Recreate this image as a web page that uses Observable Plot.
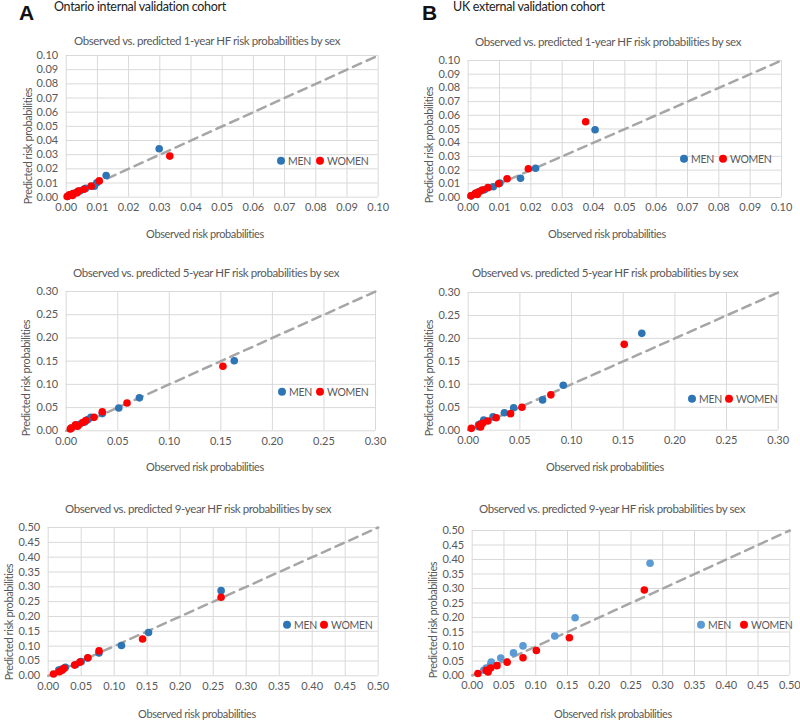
<!DOCTYPE html>
<html>
<head>
<meta charset="utf-8">
<script src="https://cdn.jsdelivr.net/npm/d3@7"></script>
<script src="https://cdn.jsdelivr.net/npm/@observablehq/plot@0.6"></script>
<style>
  body { margin: 0; background: #fff; }
  #root { position: relative; width: 800px; height: 720px; font-family: Lato, "Open Sans", sans-serif; overflow: hidden; }
  .abs { position: absolute; white-space: nowrap; line-height: 1; }
  .panelLetter { font-family: "Liberation Sans", Arial, sans-serif; font-weight: bold; font-size: 21px; color: #111; }
  .cohort { font-size: 12.5px; color: #222; letter-spacing: -0.3px; }
  .ctitle { font-size: 11.5px; color: #595959; letter-spacing: -0.4px; transform: translate(-50%, -50%); }
  .xlab { font-size: 11px; color: #595959; letter-spacing: -0.4px; transform: translate(-50%, -50%); }
  .ylab { font-size: 11px; color: #595959; letter-spacing: -0.4px; transform: translate(-50%, -50%) rotate(-90deg); }
  .leg { font-size: 10.5px; color: #595959; display: flex; align-items: center; transform: translate(-4px, -50%); letter-spacing: -0.3px; }
  .leg span.dot { display: inline-block; width: 8px; height: 8px; border-radius: 50%; margin-right: 3px; }
  .leg span.t { margin-right: 5px; }
  svg { position: absolute; overflow: visible; }
</style>
</head>
<body>
<div id="root"></div>
<script>
// ---------------- DATA ----------------
const seriesNames = ["MEN", "WOMEN"];
const cohortTitles = ["Ontario internal validation cohort", "UK external validation cohort"];
const panelLetters = ["A", "B"];
const chartTitles = [
  "Observed vs. predicted 1-year HF risk probabilities by sex",
  "Observed vs. predicted 5-year HF risk probabilities by sex",
  "Observed vs. predicted 9-year HF risk probabilities by sex"
];
const xAxisTitle = "Observed risk probabilities";
const yAxisTitle = "Predicted risk probabilities";

const ticks1yr = [0, 0.01, 0.02, 0.03, 0.04, 0.05, 0.06, 0.07, 0.08, 0.09, 0.10];
const ticks5yr = [0, 0.05, 0.10, 0.15, 0.20, 0.25, 0.30];
const ticks9yr = [0, 0.05, 0.10, 0.15, 0.20, 0.25, 0.30, 0.35, 0.40, 0.45, 0.50];

// Ontario 1-year  [observed, predicted]
const ontario1Men = [[0.0298,0.0342],[0.0128,0.0153],[0.0098,0.0102],[0.0090,0.0078],[0.0062,0.0062],[0.0045,0.0045],[0.0032,0.0032],[0.0022,0.0024],[0.0012,0.0014],[0.0005,0.0006]];
const ontario1Women = [[0.0332,0.0290],[0.0106,0.0115],[0.0080,0.0078],[0.0057,0.0056],[0.0039,0.0043],[0.0035,0.0032],[0.0022,0.0025],[0.0020,0.0012],[0.0010,0.0016],[0.0003,0.0005]];
// UK 1-year
const uk1Men = [[0.0405,0.0494],[0.0215,0.0213],[0.0167,0.0140],[0.0101,0.0105],[0.0080,0.0078],[0.0052,0.0057],[0.0040,0.0047],[0.0033,0.0040],[0.0025,0.0030],[0.0010,0.0012]];
const uk1Women = [[0.0375,0.0553],[0.0192,0.0210],[0.0124,0.0137],[0.0097,0.0100],[0.0063,0.0072],[0.0045,0.0055],[0.0033,0.0040],[0.0029,0.0022],[0.0023,0.0030],[0.0009,0.0012]];
// Ontario 5-year
const ontario5Men = [[0.163,0.151],[0.071,0.071],[0.051,0.049],[0.035,0.037],[0.024,0.029],[0.021,0.024],[0.018,0.019],[0.013,0.014],[0.009,0.011],[0.005,0.006]];
const ontario5Women = [[0.152,0.139],[0.059,0.060],[0.035,0.041],[0.027,0.029],[0.019,0.022],[0.016,0.018],[0.011,0.010],[0.009,0.013],[0.005,0.006],[0.004,0.004]];
// UK 5-year
const uk5Men = [[0.168,0.211],[0.092,0.098],[0.072,0.066],[0.044,0.049],[0.035,0.038],[0.024,0.029],[0.015,0.022],[0.012,0.014],[0.010,0.012],[0.010,0.008]];
const uk5Women = [[0.151,0.187],[0.080,0.077],[0.052,0.050],[0.041,0.036],[0.027,0.027],[0.019,0.020],[0.014,0.015],[0.011,0.011],[0.012,0.007],[0.003,0.004]];
// Ontario 9-year
const ontario9Men = [[0.262,0.287],[0.152,0.146],[0.111,0.102],[0.077,0.077],[0.060,0.060],[0.050,0.048],[0.042,0.038],[0.026,0.029],[0.020,0.022],[0.016,0.019]];
const ontario9Women = [[0.262,0.265],[0.143,0.124],[0.077,0.084],[0.060,0.061],[0.048,0.046],[0.040,0.036],[0.024,0.025],[0.021,0.019],[0.017,0.014],[0.008,0.006]];
// UK 9-year
const uk9Men = [[0.280,0.387],[0.162,0.199],[0.130,0.136],[0.080,0.102],[0.065,0.078],[0.045,0.060],[0.030,0.046],[0.029,0.038],[0.022,0.026],[0.018,0.018]];
const uk9Women = [[0.271,0.295],[0.153,0.130],[0.101,0.086],[0.080,0.061],[0.055,0.046],[0.039,0.034],[0.029,0.026],[0.022,0.018],[0.025,0.012],[0.009,0.007]];

// ---------------- STYLE / LAYOUT ----------------
const blue = "#2E75B6", lightBlue = "#5B9BD5", red = "#FF0000";
const panels = [
  {col:0, men:ontario1Men, women:ontario1Women, ticks:ticks1yr, title:0, menColor:blue,
   plotL:65.7, plotR:377.7, plotT:55, plotB:196.7, titleX:207, titleY:41, xlabX:205, xlabY:233, ylabX:27, ylabY:146, legX:281, legY:161, legGap:5},
  {col:1, men:uk1Men, women:uk1Women, ticks:ticks1yr, title:0, menColor:blue,
   plotL:467.7, plotR:781, plotT:60, plotB:197, titleX:608, titleY:42, xlabX:607, xlabY:233, ylabX:428, ylabY:145, legX:684, legY:159, legGap:5},
  {col:0, men:ontario5Men, women:ontario5Women, ticks:ticks5yr, title:1, menColor:blue,
   plotL:65.7, plotR:375, plotT:290.7, plotB:430, titleX:206, titleY:273, xlabX:205, xlabY:466, ylabX:25, ylabY:378, legX:282, legY:392, legGap:4},
  {col:1, men:uk5Men, women:uk5Women, ticks:ticks5yr, title:1, menColor:blue,
   plotL:467.7, plotR:777.7, plotT:292.3, plotB:430, titleX:605, titleY:273, xlabX:605, xlabY:466, ylabX:428, ylabY:378, legX:692, legY:399, legGap:3},
  {col:0, men:ontario9Men, women:ontario9Women, ticks:ticks9yr, title:2, menColor:blue,
   plotL:47.7, plotR:377.7, plotT:526.7, plotB:675, titleX:198, titleY:509, xlabX:197, xlabY:713, ylabX:8, ylabY:622, legX:287, legY:625, legGap:3},
  {col:1, men:uk9Men, women:uk9Women, ticks:ticks9yr, title:2, menColor:lightBlue,
   plotL:471.7, plotR:789.3, plotT:530, plotB:675, titleX:612, titleY:509, xlabX:613, xlabY:713, ylabX:432, ylabY:620, legX:701, legY:625, legGap:9}
];

const root = document.getElementById("root");
function addDiv(cls, text, x, y) {
  const d = document.createElement("div");
  d.className = "abs " + cls;
  d.textContent = text;
  d.style.left = x + "px";
  d.style.top = y + "px";
  root.appendChild(d);
  return d;
}

// Panel letters & cohort titles
addDiv("panelLetter", panelLetters[0], 19, 2);
addDiv("cohort", cohortTitles[0], 54, 1);
addDiv("panelLetter", panelLetters[1], 422, 2);
addDiv("cohort", cohortTitles[1], 453, 1);

const fmt = d3.format(".2f");
const toObj = arr => arr.map(([o, p]) => ({obs: o, pred: p}));

for (const p of panels) {
  const colLeft = p.col * 400;
  const mt = 10, mb = 28;
  const maxV = p.ticks[p.ticks.length - 1];
  const diag = [{v: p.ticks[0]}, {v: maxV}];
  const chart = Plot.plot({
    width: 400,
    height: (p.plotB - p.plotT) + mt + mb,
    marginLeft: p.plotL - colLeft,
    marginRight: colLeft + 400 - p.plotR,
    marginTop: mt,
    marginBottom: mb,
    style: {fontFamily: "Lato, 'Open Sans', sans-serif", fontSize: "11px", color: "#595959", background: "transparent", overflow: "visible"},
    x: {domain: [0, maxV]},
    y: {domain: [0, maxV]},
    marks: [
      Plot.gridX(p.ticks, {stroke: "#D9D9D9", strokeOpacity: 1, strokeWidth: 1}),
      Plot.gridY(p.ticks, {stroke: "#D9D9D9", strokeOpacity: 1, strokeWidth: 1}),
      Plot.axisX(p.ticks, {tickSize: 0, tickPadding: 6, tickFormat: fmt, label: null, fill: "#595959"}),
      Plot.axisY(p.ticks, {tickSize: 0, tickPadding: 8, tickFormat: fmt, label: null, fill: "#595959"}),
      Plot.line(diag, {x: "v", y: "v", stroke: "#A6A6A6", strokeWidth: 2.5, strokeDasharray: "9,6"}),
      Plot.dot(toObj(p.men), {x: "obs", y: "pred", r: 3.8, fill: p.menColor, stroke: "none"}),
      Plot.dot(toObj(p.women), {x: "obs", y: "pred", r: 3.8, fill: red, stroke: "none"})
    ]
  });
  chart.style.left = colLeft + "px";
  chart.style.top = (p.plotT - mt) + "px";
  root.appendChild(chart);

  addDiv("ctitle", chartTitles[p.title], p.titleX, p.titleY);
  addDiv("xlab", xAxisTitle, p.xlabX, p.xlabY);
  addDiv("ylab", yAxisTitle, p.ylabX, p.ylabY);

  const leg = addDiv("leg", "", p.legX, p.legY);
  const colors = [p.menColor, red];
  seriesNames.forEach((n, i) => {
    const dot = document.createElement("span");
    dot.className = "dot";
    dot.style.background = colors[i];
    const t = document.createElement("span");
    t.className = "t";
    t.style.marginRight = p.legGap + "px";
    t.textContent = n;
    leg.appendChild(dot);
    leg.appendChild(t);
  });
}
</script>
</body>
</html>
